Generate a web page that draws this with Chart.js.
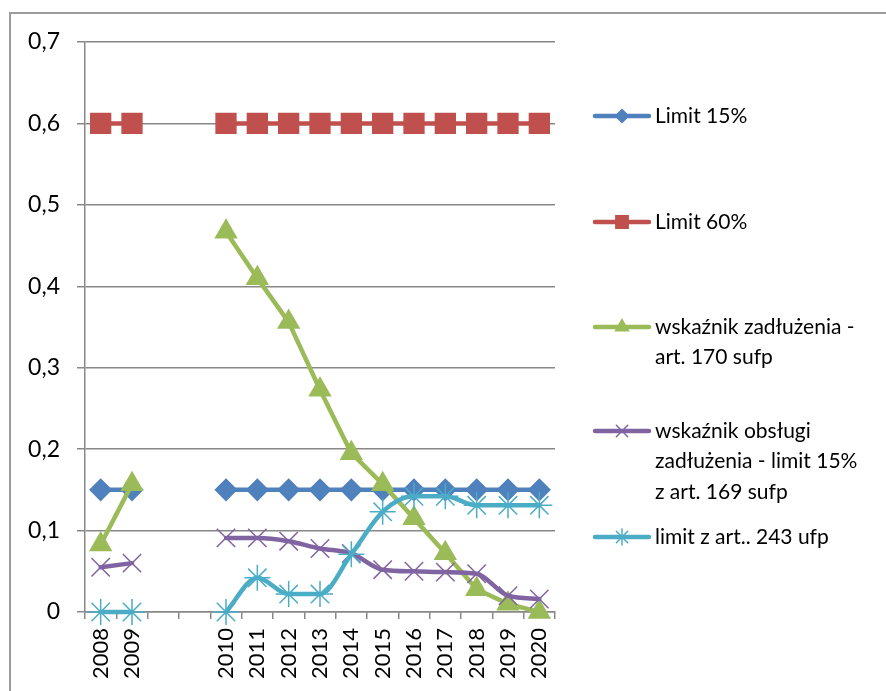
<!DOCTYPE html>
<html>
<head>
<meta charset="utf-8">
<script src="https://cdn.jsdelivr.net/npm/chart.js@4/dist/chart.umd.min.js"></script>
<style>
  html, body { margin: 0; padding: 0; background: #fff; overflow: hidden; }
  #frame { position: absolute; left: 9px; top: 12px; width: 1000px; height: 1000px;
           border: 2px solid #9c9c9c; box-sizing: border-box; }
  #c { position: absolute; left: 0; top: 0; }
</style>
</head>
<body>
<div id="frame"></div>
<canvas id="c" width="886" height="691"></canvas>
<script>
// Years on the category axis (two blank slots separate 2009 from 2010)
const years = ['2008', '2009', '', '', '2010', '2011', '2012', '2013', '2014',
               '2015', '2016', '2017', '2018', '2019', '2020'];

// Series values (null = no data in the blank slots)
const limit15     = [0.15, 0.15, null, null, 0.15, 0.15, 0.15, 0.15, 0.15, 0.15, 0.15, 0.15, 0.15, 0.15, 0.15];
const limit60     = [0.6, 0.6, null, null, 0.6, 0.6, 0.6, 0.6, 0.6, 0.6, 0.6, 0.6, 0.6, 0.6, 0.6];
const debtRatio   = [0.083, 0.157, null, null, 0.467, 0.41, 0.356, 0.273, 0.195, 0.157, 0.115, 0.072, 0.028, 0.01, 0];
const debtService = [0.055, 0.06, null, null, 0.091, 0.091, 0.087, 0.078, 0.072, 0.052, 0.05, 0.049, 0.047, 0.02, 0.016];
const art243      = [0, 0, null, null, 0, 0.042, 0.022, 0.022, 0.071, 0.123, 0.142, 0.142, 0.131, 0.131, 0.131];

// Legend texts, one entry per series, split into the lines shown
const seriesNames = [
  ['Limit 15%'],
  ['Limit 60%'],
  ['wskaźnik zadłużenia -', 'art. 170 sufp'],
  ['wskaźnik obsługi', 'zadłużenia - limit 15%', 'z art. 169 sufp'],
  ['limit z art.. 243 ufp']
];

const FONT = 'Lato, "Liberation Sans", sans-serif';
const GRID = '#888888';

function series(label, data, color, style, radius, order, smooth) {
  return {
    label: label.join(' '),
    legendLines: label,
    data: data,
    borderColor: color,
    backgroundColor: color,
    borderWidth: 4.5,
    borderCapStyle: 'round',
    borderJoinStyle: 'round',
    pointStyle: style,
    pointRadius: radius,
    pointHoverRadius: radius,
    pointBackgroundColor: color,
    pointBorderColor: color,
    pointBorderWidth: 1.5,
    cubicInterpolationMode: smooth ? 'monotone' : 'default',
    tension: 0,
    spanGaps: false,
    clip: false,
    order: order
  };
}

// Legend drawn on the right of the plot, entries at fixed rows
const sideLegend = {
  id: 'sideLegend',
  afterDraw(chart, args, opts) {
    const ctx = chart.ctx;
    ctx.save();
    ctx.font = opts.fontSize + 'px ' + FONT;
    ctx.textBaseline = 'middle';
    ctx.textAlign = 'left';
    chart.data.datasets.forEach((ds, i) => {
      const y = opts.rows[i];
      ctx.strokeStyle = ds.borderColor;
      ctx.lineWidth = ds.borderWidth;
      ctx.lineCap = 'round';
      ctx.beginPath();
      ctx.moveTo(opts.x0, y);
      ctx.lineTo(opts.x1, y);
      ctx.stroke();
      ctx.fillStyle = ds.backgroundColor;
      ctx.strokeStyle = ds.borderColor;
      ctx.lineWidth = ds.pointBorderWidth;
      Chart.helpers.drawPoint(ctx, {
        pointStyle: ds.pointStyle,
        radius: ds.pointRadius * 0.62,
        borderWidth: ds.pointBorderWidth,
        rotation: 0
      }, (opts.x0 + opts.x1) / 2, y);
      ctx.fillStyle = '#000';
      ds.legendLines.forEach((t, k) => {
        ctx.fillText(t, opts.textX, y + k * opts.lineGap);
      });
    });
    ctx.restore();
  }
};

new Chart(document.getElementById('c'), {
  type: 'line',
  data: {
    labels: years,
    datasets: [
      series(seriesNames[0], limit15, '#4F81BD', 'rectRot', 10.5, 5),
      series(seriesNames[1], limit60, '#C0504D', 'rect', 14, 4),
      series(seriesNames[2], debtRatio, '#9BBB59', 'triangle', 12, 3),
      series(seriesNames[3], debtService, '#8064A2', 'crossRot', 13, 2, true),
      series(seriesNames[4], art243, '#4BACC6', 'star', 13, 1, true)
    ]
  },
  options: {
    responsive: false,
    animation: false,
    layout: { padding: { top: 42, right: 331, left: 0, bottom: 0 } },
    plugins: {
      legend: { display: false },
      tooltip: { enabled: false },
      sideLegend: { x0: 595, x1: 649, textX: 655, fontSize: 21, lineGap: 30.5,
                    rows: [116, 222, 327, 431, 537] }
    },
    scales: {
      x: {
        offset: true,
        grid: { offset: true, drawOnChartArea: false, drawTicks: true, tickLength: 7,
                color: GRID, lineWidth: 1.5 },
        border: { display: true, color: GRID, width: 1.5 },
        ticks: { autoSkip: false, minRotation: 90, maxRotation: 90, padding: 9,
                 color: '#000', font: { family: FONT, size: 22 } },
        afterFit(scale) { scale.height = 79; }
      },
      y: {
        min: 0, max: 0.7,
        grid: { color: GRID, lineWidth: 1.5, drawTicks: true, tickLength: 8 },
        border: { display: true, color: GRID, width: 1.5 },
        ticks: {
          stepSize: 0.1, padding: 17, color: '#000',
          font: { family: FONT, size: 23 },
          callback: v => (Math.abs(v) < 1e-9 ? '0' : v.toFixed(1).replace('.', ','))
        },
        afterFit(scale) { scale.width = 85; }
      }
    }
  },
  plugins: [sideLegend]
});
</script>
</body>
</html>
